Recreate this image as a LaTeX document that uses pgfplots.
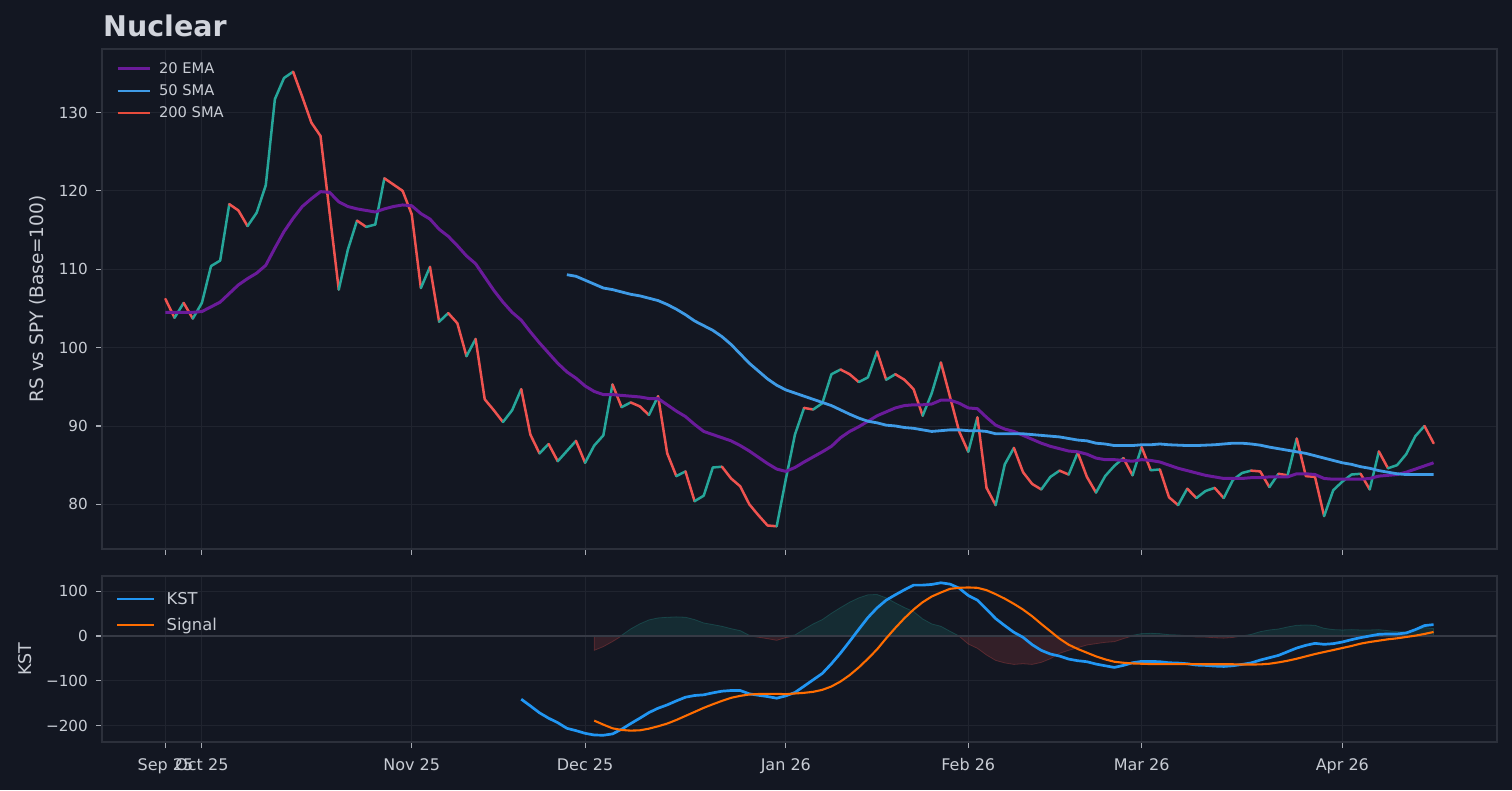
\documentclass[border=0pt]{standalone}
\usepackage{fontspec}
\setmainfont{DejaVu Sans}
\usepackage{pgfplots}
\usepackage{pgfplotstable}
\pgfplotsset{compat=1.18}
\definecolor{bg}{HTML}{131722}
\definecolor{spine}{HTML}{2C303B}
\definecolor{gridc}{HTML}{20242F}
\definecolor{tickc}{HTML}{A8ACB5}
\definecolor{ticklab}{HTML}{C8CCD4}
\definecolor{titlec}{HTML}{D1D4DC}
\definecolor{upteal}{HTML}{26A69A}
\definecolor{dnred}{HTML}{EF5350}
\definecolor{emac}{HTML}{6A1B9A}
\definecolor{smac}{HTML}{3F9BE6}
\definecolor{sma200c}{HTML}{E74C3C}
\definecolor{kstc}{HTML}{2196F3}
\definecolor{sigc}{HTML}{FF6D00}
\definecolor{zeroc}{HTML}{363A45}

\pgfplotstableread{
i p d
0 106.2 0
1 103.8 1
2 105.7 0
3 103.7 1
4 105.7 1
5 110.4 1
6 111.1 1
7 118.3 0
8 117.5 0
9 115.5 1
10 117.2 1
11 120.7 1
12 131.7 1
13 134.4 1
14 135.2 0
15 132.0 0
16 128.7 0
17 127.0 0
18 117.2 0
19 107.4 1
20 112.5 1
21 116.2 0
22 115.4 1
23 115.7 1
24 121.6 0
25 120.8 0
26 120.0 0
27 117.0 0
28 107.6 1
29 110.3 0
30 103.3 1
31 104.4 0
32 103.1 0
33 98.9 1
34 101.1 0
35 93.4 0
36 92.0 0
37 90.5 1
38 92.0 1
39 94.7 0
40 88.9 0
41 86.5 1
42 87.7 0
43 85.5 1
44 86.8 1
45 88.1 0
46 85.3 1
47 87.5 1
48 88.8 1
49 95.3 0
50 92.4 1
51 93.0 0
52 92.5 0
53 91.4 1
54 93.8 0
55 86.5 0
56 83.6 1
57 84.2 0
58 80.4 1
59 81.1 1
60 84.7 1
61 84.8 0
62 83.3 0
63 82.3 0
64 80.0 0
65 78.6 0
66 77.3 0
67 77.2 1
68 83.2 1
69 88.9 1
70 92.3 0
71 92.1 1
72 92.9 1
73 96.6 1
74 97.2 0
75 96.6 0
76 95.6 1
77 96.2 1
78 99.5 0
79 95.9 1
80 96.6 0
81 95.9 0
82 94.7 0
83 91.3 1
84 94.2 1
85 98.1 0
86 93.7 0
87 89.3 0
88 86.7 1
89 91.1 0
90 82.1 0
91 79.9 1
92 85.1 1
93 87.2 0
94 84.1 0
95 82.6 0
96 81.9 1
97 83.5 1
98 84.3 0
99 83.8 1
100 86.6 0
101 83.5 0
102 81.5 1
103 83.6 1
104 84.9 1
105 85.9 0
106 83.7 1
107 87.3 0
108 84.35 1
109 84.45 0
110 80.9 0
111 79.9 1
112 82.0 0
113 80.8 1
114 81.7 1
115 82.1 0
116 80.8 1
117 83.1 1
118 84.0 1
119 84.3 0
120 84.2 0
121 82.2 1
122 83.9 0
123 83.7 1
124 88.4 0
125 83.6 0
126 83.5 0
127 78.5 1
128 81.8 1
129 82.9 1
130 83.8 1
131 83.9 0
132 81.9 1
133 86.75 0
134 84.6 1
135 85.0 1
136 86.4 1
137 88.7 1
138 90.0 0
139 87.8 0
}\price

\pgfplotstableread{
i v
0 104.5
1 104.5
2 104.5
3 104.5
4 104.6
5 105.2
6 105.8
7 106.9
8 108.0
9 108.8
10 109.5
11 110.5
12 112.7
13 114.8
14 116.5
15 118.0
16 119.0
17 119.9
18 119.8
19 118.6
20 118.0
21 117.7
22 117.5
23 117.3
24 117.7
25 118.0
26 118.2
27 118.1
28 117.1
29 116.4
30 115.1
31 114.2
32 113.0
33 111.7
34 110.7
35 109.0
36 107.3
37 105.8
38 104.5
39 103.5
40 102.0
41 100.6
42 99.3
43 98.0
44 96.9
45 96.1
46 95.1
47 94.4
48 94.0
49 94.0
50 93.9
51 93.8
52 93.7
53 93.5
54 93.5
55 92.7
56 91.9
57 91.2
58 90.2
59 89.3
60 88.9
61 88.5
62 88.1
63 87.5
64 86.8
65 86.0
66 85.2
67 84.5
68 84.2
69 84.7
70 85.4
71 86.05
72 86.7
73 87.4
74 88.5
75 89.3
76 89.9
77 90.6
78 91.3
79 91.8
80 92.3
81 92.6
82 92.7
83 92.7
84 92.8
85 93.3
86 93.3
87 92.9
88 92.3
89 92.2
90 91.1
91 90.1
92 89.6
93 89.3
94 88.8
95 88.3
96 87.8
97 87.4
98 87.1
99 86.8
100 86.7
101 86.4
102 85.9
103 85.7
104 85.7
105 85.6
106 85.5
107 85.7
108 85.6
109 85.4
110 85.0
111 84.6
112 84.3
113 84.0
114 83.7
115 83.5
116 83.3
117 83.3
118 83.3
119 83.4
120 83.4
121 83.5
122 83.5
123 83.5
124 83.9
125 83.9
126 83.8
127 83.3
128 83.2
129 83.2
130 83.2
131 83.2
132 83.3
133 83.6
134 83.7
135 83.8
136 84.1
137 84.5
138 84.9
139 85.3
}\ema

\pgfplotstableread{
i v
44 109.3
45 109.1
46 108.6
47 108.1
48 107.6
49 107.4
50 107.1
51 106.8
52 106.6
53 106.3
54 106.0
55 105.5
56 104.9
57 104.2
58 103.4
59 102.8
60 102.2
61 101.4
62 100.4
63 99.2
64 98.0
65 97.0
66 96.0
67 95.2
68 94.6
69 94.2
70 93.8
71 93.4
72 93.0
73 92.6
74 92.05
75 91.5
76 91.0
77 90.6
78 90.4
79 90.1
80 90.0
81 89.8
82 89.7
83 89.5
84 89.3
85 89.4
86 89.5
87 89.5
88 89.4
89 89.4
90 89.3
91 89.0
92 89.0
93 89.0
94 89.0
95 88.9
96 88.8
97 88.7
98 88.6
99 88.4
100 88.2
101 88.1
102 87.8
103 87.7
104 87.5
105 87.5
106 87.5
107 87.6
108 87.6
109 87.7
110 87.6
111 87.55
112 87.5
113 87.5
114 87.55
115 87.6
116 87.7
117 87.8
118 87.8
119 87.7
120 87.55
121 87.3
122 87.1
123 86.9
124 86.7
125 86.5
126 86.2
127 85.9
128 85.6
129 85.3
130 85.1
131 84.8
132 84.6
133 84.3
134 84.1
135 83.9
136 83.8
137 83.8
138 83.8
139 83.8
}\sma

\pgfplotstableread{
i v
39 -140.7
40 -155.6
41 -171
42 -183
43 -193
44 -205.5
45 -210.7
46 -216.7
47 -220.4
48 -221
49 -218
50 -207.7
51 -195
52 -183
53 -170.5
54 -160.8
55 -153.4
56 -144.5
57 -136.3
58 -132.5
59 -131
60 -126.6
61 -122.9
62 -121.4
63 -121.4
64 -128.8
65 -132
66 -134.8
67 -138.5
68 -133.3
69 -125.8
70 -111.7
71 -97.5
72 -83.4
73 -61.8
74 -38
75 -11.9
76 14.9
77 41
78 62.5
79 79.7
80 91.6
81 102.8
82 113.2
83 113.2
84 114.7
85 118.4
86 115.4
87 106.5
88 90.1
89 79.7
90 59.6
91 38.7
92 23
93 8.2
94 -3
95 -19.4
96 -32
97 -40.2
98 -44.7
99 -51.4
100 -55.1
101 -57.3
102 -62.5
103 -66.3
104 -70
105 -65.5
106 -59.6
107 -56.6
108 -56.6
109 -57.3
110 -59.6
111 -60.3
112 -61.8
113 -64.8
114 -65.5
115 -67
116 -67.8
117 -66.3
118 -63.3
119 -60
120 -53.6
121 -48.4
122 -43.2
123 -35
124 -26.8
125 -20.8
126 -16.4
127 -18.6
128 -17.1
129 -13.4
130 -8.2
131 -3.7
132 0
133 3.7
134 4.5
135 4.5
136 6.7
137 14.1
138 23.1
139 25.3
}\kst

\pgfplotstableread{
i v
47 -188.4
48 -197.3
49 -205.5
50 -209.2
51 -210.7
52 -210
53 -206.3
54 -201
55 -195
56 -187
57 -178
58 -169
59 -160
60 -152
61 -144.5
62 -137.7
63 -133.3
64 -130.3
65 -129.2
66 -128.8
67 -128.8
68 -129.6
69 -128
70 -126.6
71 -124.3
72 -119.9
73 -112.4
74 -101.3
75 -87.1
76 -70
77 -50.6
78 -29.8
79 -5.2
80 17.9
81 39.5
82 58.8
83 75.2
84 87.9
85 96.8
86 105
87 107.2
88 108
89 107.2
90 102
91 93.1
92 83
93 71.5
94 58.8
95 43.9
96 26.8
97 10.4
98 -6
99 -19.4
100 -29
101 -37.2
102 -45.4
103 -52.1
104 -57.3
105 -59.6
106 -61.1
107 -61.8
108 -62.5
109 -62.5
110 -62.5
111 -62.5
112 -62.5
113 -62.5
114 -63
115 -63
116 -63
117 -63
118 -63.5
119 -63.5
120 -63.3
121 -61.8
122 -58.8
123 -55.1
124 -50.6
125 -45.4
126 -40.2
127 -35.7
128 -31.3
129 -26.8
130 -22.3
131 -17.1
132 -13.4
133 -10.4
134 -7.4
135 -5.2
136 -2.2
137 0.7
138 4.5
139 8.9
}\sig

\pgfplotstableread{
i pos neg
47 0 -32.0
48 0 -23.7
49 0 -12.5
50 1.5 0
51 15.7 0
52 27.0 0
53 35.8 0
54 40.2 0
55 41.6 0
56 42.5 0
57 41.7 0
58 36.5 0
59 29.0 0
60 25.4 0
61 21.6 0
62 16.3 0
63 11.9 0
64 1.5 0
65 0 -2.8
66 0 -6.0
67 0 -9.7
68 0 -3.7
69 2.2 0
70 14.9 0
71 26.8 0
72 36.5 0
73 50.6 0
74 63.3 0
75 75.2 0
76 84.9 0
77 91.6 0
78 92.3 0
79 84.9 0
80 73.7 0
81 63.3 0
82 54.4 0
83 38.0 0
84 26.8 0
85 21.6 0
86 10.4 0
87 0 -0.7
88 0 -17.9
89 0 -27.5
90 0 -42.4
91 0 -54.4
92 0 -60.0
93 0 -63.3
94 0 -61.8
95 0 -63.3
96 0 -58.8
97 0 -50.6
98 0 -38.7
99 0 -32.0
100 0 -26.1
101 0 -20.1
102 0 -17.1
103 0 -14.2
104 0 -12.7
105 0 -5.9
106 1.5 0
107 5.2 0
108 5.9 0
109 5.2 0
110 2.9 0
111 2.2 0
112 0.7 0
113 0 -2.3
114 0 -2.5
115 0 -4.0
116 0 -4.8
117 0 -3.3
118 0.2 0
119 3.5 0
120 9.7 0
121 13.4 0
122 15.6 0
123 20.1 0
124 23.8 0
125 24.6 0
126 23.8 0
127 17.1 0
128 14.2 0
129 13.4 0
130 14.1 0
131 13.4 0
132 13.4 0
133 14.1 0
134 11.9 0
135 9.7 0
136 8.9 0
137 13.4 0
138 18.6 0
139 16.4 0
}\hist

\pgfplotsset{
  darkax/.style={
    scale only axis, width=1395pt,
    xmin=-6.95, xmax=145.95,
    axis line style={draw=spine, line width=1.2pt},
    grid=major, major grid style={draw=gridc, line width=0.9pt},
    tick align=outside, major tick length=6pt, tick pos=left,
    every tick/.style={draw=tickc, line width=1.1pt},
    xtick={0,4,27,46,68,88,107,129},
    /pgf/number format/assume math mode=true,
    yticklabel style={anchor=east, inner sep=0pt, xshift=-8pt, text=ticklab, font=\fontsize{15.2}{18}\selectfont},
    xticklabel style={anchor=north, inner sep=0pt, yshift=-10pt, text=ticklab, font=\fontsize{16}{19}\selectfont},
    legend cell align=left,
  }
}

\begin{document}
\begin{tikzpicture}
\path[use as bounding box, fill=bg] (0pt,0pt) rectangle (1512pt,790pt);
% ---------- top panel
\begin{axis}[darkax,
  at={(102pt,241pt)}, anchor=south west, height=500pt,
  ymin=74.3, ymax=138.1,
  ytick={80,90,100,110,120,130},
  xticklabels={},
  colormap={updown}{color(0)=(dnred) color(1)=(upteal)},
  point meta min=0, point meta max=1,
  title={Nuclear},
  title style={at={(axis description cs:0,1)}, anchor=base west, yshift=6pt, xshift=1pt, inner sep=0pt, text=titlec, font=\bfseries\fontsize{28.5}{34}\selectfont},
  ylabel={RS vs SPY (Base=100)},
  ylabel style={at={(axis description cs:-0.0459,0.5)}, anchor=center, text=ticklab, font=\fontsize{18.5}{21}\selectfont},
  legend style={at={(axis description cs:0,1)}, anchor=north west, xshift=14pt, yshift=-9pt,
    draw=none, fill=none, inner sep=0pt, outer sep=0pt, row sep=0pt, column sep=8pt,
    font=\fontsize{14.7}{17}\selectfont, text=ticklab,
    nodes={inner sep=0pt, minimum height=22pt}},
  legend image code/.code={\draw[#1] (0pt,0pt) -- (32pt,0pt);},
]
\addplot[mesh, shader=flat corner, point meta=explicit, line width=2.5pt, line cap=round, forget plot]
  table[x=i, y=p, meta=d] {\price};
\addplot[emac, line width=3pt, line join=round] table[x=i, y=v] {\ema};
\addlegendentry{20 EMA}
\addplot[smac, line width=2.8pt, line join=round] table[x=i, y=v] {\sma};
\addlegendentry{50 SMA}
\addlegendimage{sma200c, line width=2.8pt}
\addlegendentry{200 SMA}
\end{axis}
% ---------- bottom panel
\begin{axis}[darkax,
  at={(102pt,48pt)}, anchor=south west, height=166pt,
  ymin=-236, ymax=133.5,
  ytick={-200,-100,0,100},
  yticklabels={−200,−100,0,100},
  xticklabels={Sep 25,Oct 25,Nov 25,Dec 25,Jan 26,Feb 26,Mar 26,Apr 26},
  ylabel={KST},
  ylabel style={at={(axis description cs:-0.0552,0.5)}, anchor=center, text=ticklab, font=\fontsize{17.5}{20}\selectfont},
  legend style={at={(axis description cs:0,1)}, anchor=north west, xshift=14pt, yshift=-10pt,
    draw=none, fill=none, inner sep=0pt, outer sep=0pt, row sep=0pt, column sep=11pt,
    font=\fontsize{16.3}{19}\selectfont, text=ticklab,
    nodes={inner sep=0pt, minimum height=26pt}},
  legend image code/.code={\draw[#1] (0pt,0pt) -- (37pt,0pt);},
]
\addplot[draw=upteal, draw opacity=0.25, fill=upteal, fill opacity=0.15, line width=0.8pt, forget plot]
  table[x=i, y=pos] {\hist} \closedcycle;
\addplot[draw=dnred, draw opacity=0.25, fill=dnred, fill opacity=0.15, line width=0.8pt, forget plot]
  table[x=i, y=neg] {\hist} \closedcycle;
\addplot[zeroc, line width=1.8pt, forget plot] coordinates {(-10,0) (150,0)};
\addplot[kstc, line width=2.7pt, line join=round] table[x=i, y=v] {\kst};
\addlegendentry{KST}
\addplot[sigc, line width=2.1pt, line join=round] table[x=i, y=v] {\sig};
\addlegendentry{Signal}
\end{axis}
\end{tikzpicture}
\end{document}
